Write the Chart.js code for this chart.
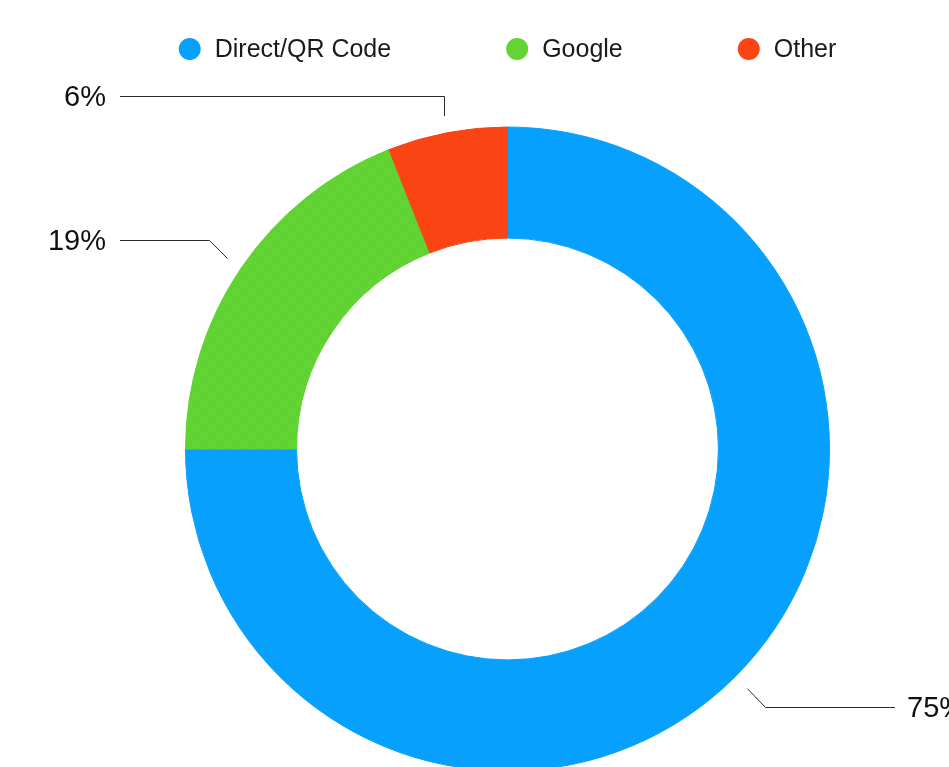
<!DOCTYPE html>
<html>
<head>
<meta charset="utf-8">
<title>Traffic sources</title>
<script src="https://cdn.jsdelivr.net/npm/chart.js@4/dist/chart.umd.min.js"></script>
<style>
  html, body { margin: 0; padding: 0; background: #fff; overflow: hidden; }
  #wrap { width: 949px; height: 767px; overflow: hidden; }
  canvas { display: block; }
</style>
</head>
<body>
<div id="wrap"><canvas id="sourceChart" width="1015" height="800"></canvas></div>
<script>
var labels = ["Direct/QR Code", "Google", "Other"];
var shares = [75, 19, 6];
var colors = ["#08A0FD", "#62D434", "#FA4414"];

// green slice has a faint checker texture in the original
function checker(base, alt) {
  var c = document.createElement("canvas");
  c.width = 16; c.height = 16;
  var g = c.getContext("2d");
  g.fillStyle = base; g.fillRect(0, 0, 16, 16);
  g.fillStyle = alt; g.fillRect(0, 0, 8, 8); g.fillRect(8, 8, 8, 8);
  return g.createPattern(c, "repeat");
}

var fills = colors.slice();
fills[1] = checker("#62D434", "#5FD132");

var font = "'Liberation Sans', Arial, Helvetica, sans-serif";

// legend drawn on the canvas, spaced like the original
var topLegend = {
  id: "topLegend",
  afterDraw: function (chart) {
    var ctx = chart.ctx;
    var dot = 11, gap = 14, spacing = 115;
    ctx.save();
    ctx.font = "25px " + font;
    var widths = labels.map(function (t) { return dot * 2 + gap + ctx.measureText(t).width; });
    var total = widths.reduce(function (a, b) { return a + b; }, 0) + spacing * (labels.length - 1);
    var meta = chart.getDatasetMeta(0);
    var x = meta.data[0].x - total / 2;
    var y = 49;
    ctx.textBaseline = "middle";
    ctx.textAlign = "left";
    labels.forEach(function (t, i) {
      ctx.fillStyle = colors[i];
      ctx.beginPath();
      ctx.arc(x + dot, y, dot, 0, Math.PI * 2);
      ctx.fill();
      ctx.fillStyle = "#1a1a1a";
      ctx.fillText(t, x + dot * 2 + gap, y + 1);
      x += widths[i] + spacing;
    });
    ctx.restore();
  }
};

// percentage callouts with leader lines
var callouts = {
  id: "callouts",
  afterDraw: function (chart) {
    var ctx = chart.ctx;
    var meta = chart.getDatasetMeta(0);
    var sum = shares.reduce(function (a, b) { return a + b; }, 0);
    ctx.save();
    ctx.strokeStyle = "#2a2a2a";
    ctx.lineWidth = 1;
    ctx.fillStyle = "#111";
    ctx.font = "29px " + font;
    ctx.textBaseline = "middle";
    meta.data.forEach(function (arc, i) {
      var a = (arc.startAngle + arc.endAngle) / 2;
      var cos = Math.cos(a), sin = Math.sin(a);
      var r = arc.outerRadius + 17;
      var sx = arc.x + r * cos, sy = arc.y + r * sin;
      var ex, ey;
      var nearTop = Math.abs(cos) < 0.3;
      if (nearTop) {
        ex = sx; ey = sy + (sin < 0 ? -20 : 20);
      } else {
        ex = sx + (cos < 0 ? -18 : 18); ey = sy + (sin < 0 ? -18 : 18);
      }
      ex = Math.round(ex) + 0.5; ey = Math.round(ey) + 0.5;
      var left = nearTop || cos < 0;
      var hx = left ? arc.x - 387.5 : arc.x + 387.5;
      ctx.beginPath();
      ctx.moveTo(Math.round(sx) + 0.5, sy);
      ctx.lineTo(ex, ey);
      ctx.lineTo(hx, ey);
      ctx.stroke();
      var pct = Math.round(shares[i] / sum * 100) + "%";
      ctx.textAlign = left ? "right" : "left";
      ctx.fillText(pct, left ? hx - 14 : hx + 12, ey + 1);
    });
    ctx.restore();
  }
};

var ctxD = document.getElementById("sourceChart").getContext("2d");
var sourceChart = new Chart(ctxD, {
  type: "doughnut",
  data: {
    labels: labels,
    datasets: [{
      data: shares,
      backgroundColor: fills,
      hoverBackgroundColor: fills,
      borderColor: fills,
      hoverBorderColor: fills,
      borderWidth: 1
    }]
  },
  options: {
    responsive: false,
    animation: false,
    cutout: "65.5%",
    layout: { padding: { top: 126.5, bottom: 28.5, left: 0, right: 0 } },
    plugins: {
      legend: { display: false },
      tooltip: { enabled: false }
    }
  },
  plugins: [topLegend, callouts]
});
</script>
</body>
</html>
